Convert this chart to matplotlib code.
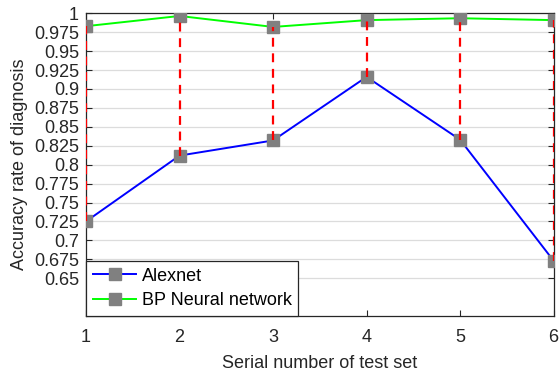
import numpy as np
import matplotlib.pyplot as plt

plt.rcParams['font.family'] = ['Liberation Sans', 'DejaVu Sans']

test_set = [1, 2, 3, 4, 5, 6]
alexnet = [0.725, 0.812, 0.832, 0.916, 0.833, 0.673]
bp_net = [0.983, 0.9965, 0.982, 0.991, 0.9935, 0.991]
yticks = np.arange(0.65, 1.0001, 0.025)
ytick_labels = ['0.65', '0.675', '0.7', '0.725', '0.75', '0.775', '0.8', '0.825',
                '0.85', '0.875', '0.9', '0.925', '0.95', '0.975', '1']

fig = plt.figure(figsize=(5.6, 3.74), dpi=100)
ax = fig.add_axes([0.1536, 0.155, 0.835, 0.8094])

ax.plot(test_set, alexnet, color='blue', lw=1.4, marker='s', ms=8.5,
        mfc='#808080', mec='#808080', label='Alexnet', zorder=3)
ax.plot(test_set, bp_net, color='#00ff00', lw=1.4, marker='s', ms=8.5,
        mfc='#808080', mec='#808080', label='BP Neural network', zorder=3)
ax.vlines(test_set, alexnet, bp_net, colors='red', linestyles=(0, (4, 3)),
          lw=1.6, zorder=4)

ax.set_xlim(1, 6)
ax.set_ylim(0.6, 1)
ax.set_xticks(test_set)
ax.set_yticks(yticks)
ax.set_yticklabels(ytick_labels)
ax.yaxis.grid(True, color='#dcdcdc', lw=0.9)
ax.set_axisbelow(True)
ax.tick_params(direction='in', top=True, right=True, labelsize=13,
               length=4, width=0.8, colors='#262626')
ax.tick_params(axis='x', pad=9)
ax.tick_params(axis='y', pad=5)
for s in ax.spines.values():
    s.set_color('#262626')
    s.set_linewidth(0.9)

ax.set_xlabel('Serial number of test set', fontsize=13, color='#262626', labelpad=7)
ax.set_ylabel('Accuracy rate of diagnosis', fontsize=13, color='#262626', labelpad=4)

leg = ax.legend(loc='lower left', fontsize=13, frameon=True, fancybox=False,
                edgecolor='#262626', framealpha=1, borderaxespad=0,
                handlelength=2.4, handletextpad=0.3, labelspacing=0.42,
                borderpad=0.38)
leg.get_frame().set_linewidth(0.9)
leg.set_zorder(5)

fig.savefig('out.png', dpi=100)
